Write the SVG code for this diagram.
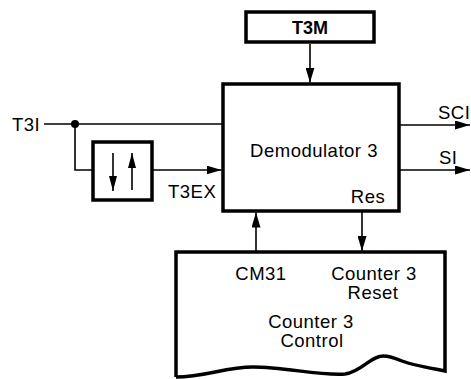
<svg xmlns="http://www.w3.org/2000/svg" width="471" height="379" viewBox="0 0 471 379">
<style>
text{font-family:"Liberation Sans",Arial,sans-serif;font-size:18.5px;fill:#000;letter-spacing:0.5px}
.m{text-anchor:middle}
.b{font-weight:bold;letter-spacing:0;font-size:18px}
.box{fill:#fff;stroke:#000;stroke-width:3.5}
.ln{fill:none;stroke:#000;stroke-width:1.6}
</style>
<defs>
<marker id="ah" markerUnits="userSpaceOnUse" markerWidth="15" markerHeight="9" refX="15" refY="4.5" orient="auto">
<path d="M0,0 L15,4.5 L0,9 z" fill="#000"/>
</marker>
<marker id="ahs" markerUnits="userSpaceOnUse" markerWidth="15" markerHeight="8" refX="15" refY="4" orient="auto">
<path d="M0,0 L15,4 L0,8 z" fill="#000"/>
</marker>
</defs>
<g id="connectors">
<path class="ln" d="M310,44 V82.5" marker-end="url(#ah)"/>
<path class="ln" d="M44,124 H222"/>
<path class="ln" d="M75,124 V170 H93"/>
<path class="ln" d="M152,170 H221.5" marker-end="url(#ah)"/>
<path class="ln" d="M400,125 H470" marker-end="url(#ah)"/>
<path class="ln" d="M400,170 H470" marker-end="url(#ah)"/>
<path class="ln" d="M256,251 V212.5" marker-end="url(#ah)"/>
<path class="ln" d="M362,212 V251" marker-end="url(#ah)"/>
<circle cx="75" cy="124" r="4" fill="#000"/>
</g>
<g id="t3m">
<rect class="box" x="246" y="12" width="128" height="30" stroke-width="4"/>
<text class="b m" x="310" y="34">T3M</text>
</g>
<g id="demodulator">
<rect class="box" x="223" y="84" width="176" height="127"/>
<text class="m" x="314" y="157">Demodulator 3</text>
<text class="m" x="368" y="203">Res</text>
</g>
<g id="t3i">
<text x="12" y="131">T3I</text>
</g>
<g id="edge-detector">
<rect class="box" x="93" y="142" width="59" height="58" stroke-width="3"/>
<path class="ln" d="M113,153 V191" marker-end="url(#ahs)"/>
<path class="ln" d="M132,190 V153" marker-end="url(#ahs)"/>
</g>
<g id="t3ex">
<text x="168" y="198">T3EX</text>
</g>
<g id="sci"><text x="438" y="119">SCI</text></g>
<g id="si"><text x="439" y="164">SI</text></g>
<g id="counter-control">
<path class="box" d="M176,377 V252 H445 V371 C430,368 412,365 402,361 C395,358 390,356 383,356 C370,356 362,372 345,374 C320,376 285,367 253,367 C225,367 205,377 176,377"/>
<text class="m" x="261" y="280">CM31</text>
<text class="m" x="374" y="280">Counter 3</text>
<text class="m" x="373" y="299">Reset</text>
<text class="m" x="311" y="328">Counter 3</text>
<text class="m" x="312" y="347">Control</text>
</g>
</svg>
